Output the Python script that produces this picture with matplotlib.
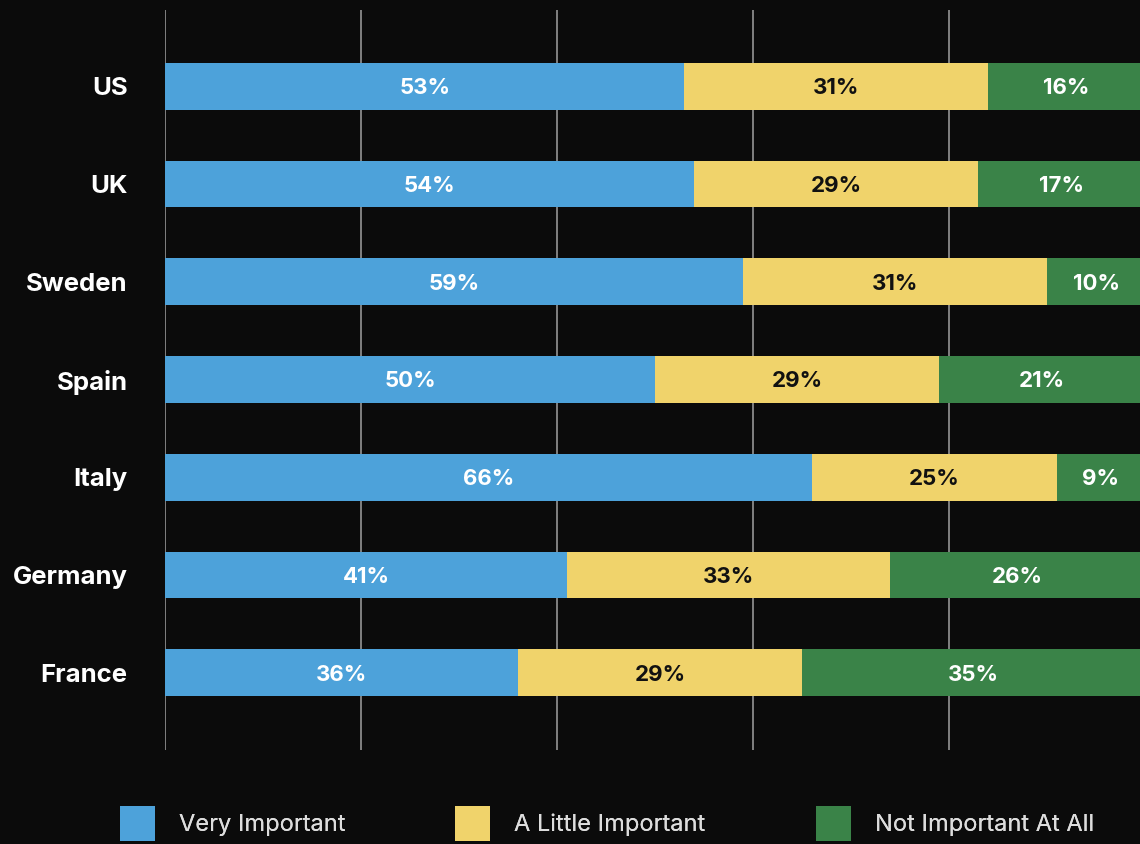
import numpy as np
import matplotlib.pyplot as plt

countries = ["US", "UK", "Sweden", "Spain", "Italy", "Germany", "France"]
very = [53, 54, 59, 50, 66, 41, 36]
little = [31, 29, 31, 29, 25, 33, 29]
not_at_all = [16, 17, 10, 21, 9, 26, 35]
series_names = ["Very Important", "A Little Important", "Not Important At All"]

colors = ["#4da2da", "#f0d36b", "#3a8348"]
text_colors = ["white", "#111111", "white"]
bg = "#0b0b0b"

plt.rcParams["font.family"] = ["Inter", "DejaVu Sans"]

fig = plt.figure(figsize=(11.4, 8.44), dpi=100, facecolor=bg)
ax = fig.add_axes([165 / 1140, 94 / 844, 980 / 1140, 740 / 844])
ax.set_facecolor(bg)

y = np.arange(len(countries))[::-1]
left = np.zeros(len(countries))
handles = []
for vals, name, c, tc in zip([very, little, not_at_all], series_names, colors, text_colors):
    vals = np.array(vals)
    bars = ax.barh(y, vals, left=left, height=0.48, color=c, label=name, zorder=3)
    handles.append(bars)
    for yi, l, v in zip(y, left, vals):
        ax.text(l + v / 2, yi - 0.02, f"{v}%", ha="center", va="center",
                color=tc, fontsize=16, fontweight="bold", zorder=4)
    left = left + vals

ax.set_xlim(0, 100)
ax.set_ylim(-0.79, len(countries) - 1 + 0.78)
for gx in [0, 20, 40, 60, 80]:
    ax.axvline(gx, color="#8a8a8a", lw=1.3, zorder=1)

ax.set_yticks(y)
ax.set_yticklabels(countries, color="white", fontsize=18.5, fontweight="bold")
ax.tick_params(axis="y", length=0, pad=27)
ax.set_xticks([])
for s in ax.spines.values():
    s.set_visible(False)

# one legend entry per column, each anchored at its own spot
legend_x = [120, 455, 816]
for h, name, lx in zip(handles, series_names, legend_x):
    leg = fig.legend(handles=[h], labels=[name], loc="lower left",
                     bbox_to_anchor=(lx / 1140, 3 / 844), frameon=False,
                     fontsize=17, handlelength=1.48, handleheight=1.9,
                     handletextpad=1.0, borderaxespad=0.0, borderpad=0.0,
                     labelcolor="#dddddd")
    fig.add_artist(leg)

fig.savefig("out.png", facecolor=bg)
